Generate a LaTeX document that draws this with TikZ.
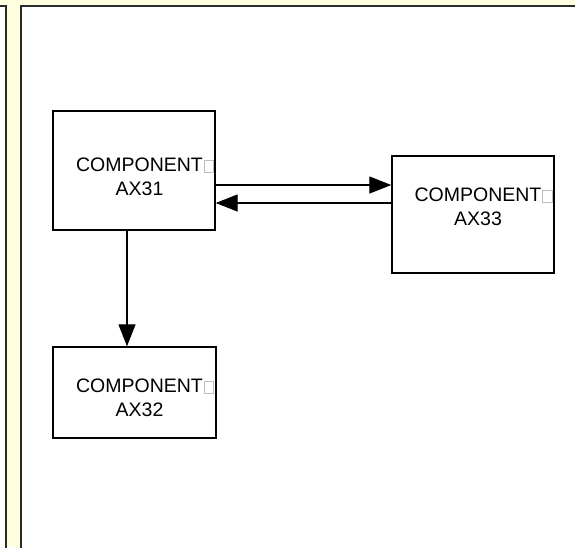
\documentclass[tikz,border=0pt]{standalone}
\usepackage{fontspec}
\setmainfont{Liberation Sans}
\usepackage{xcolor}
\usetikzlibrary{arrows.meta}
\definecolor{pad}{HTML}{FFFFE0}
\definecolor{rim}{HTML}{2B2B2B}
\definecolor{ghost}{HTML}{BDBDBD}

% missing-glyph square printed after the first line
\newcommand{\gapglyph}{\rlap{\hspace{1pt}\textcolor{ghost}{\setlength{\fboxsep}{0pt}\setlength{\fboxrule}{0.6pt}\fbox{\rule{0pt}{11pt}\hspace{9pt}}}}}

\tikzset{
  unit/.style={draw=black, line width=1.4pt, inner sep=0pt},
  caption/.style={align=center, inner sep=0pt, font=\fontsize{19.5}{24}\selectfont},
  flow/.style={line width=1.3pt, -{Triangle[length=22pt,width=17pt]}},
  panel/.style={draw=rim, fill=white, line width=2pt}
}

\begin{document}
\begin{tikzpicture}[x=1pt, y=-1pt]

% =========================
% PAGE AND PANELS
% =========================
\clip (0,0) rectangle (575,547);
\fill[pad] (0,0) rectangle (575,547);

% narrow panel (left)
\draw[panel] (-10,5.5) rectangle (5.5,560);

% main panel
\draw[panel] (20.5,5.5) rectangle (590,560);

% =========================
% COMPONENTS
% =========================
\node[unit, minimum width=162pt, minimum height=119pt] (ax31) at (134,170.5) {};
\node[unit, minimum width=162pt, minimum height=117pt] (ax33) at (473,214.5) {};
\node[unit, minimum width=163pt, minimum height=91pt] (ax32) at (134.5,392.5) {};

\node[caption] (ax31 text) at (139.5,177) {COMPONENT\gapglyph\\AX31};
\node[caption] (ax33 text) at (478,207) {COMPONENT\gapglyph\\AX33};
\node[caption] (ax32 text) at (139.5,398) {COMPONENT\gapglyph\\AX32};

% =========================
% CONNECTORS
% =========================
\coordinate (hi) at ([yshift=-14.5pt]ax31.east);
\coordinate (lo) at ([yshift=-32.5pt]ax31.east);

\draw[flow] (hi) -- (hi -| ax33.west);
\draw[flow] (lo -| ax33.west) -- (lo);

\draw[flow] ([xshift=-7pt]ax31.south) -- ([xshift=-7.5pt]ax32.north);

\end{tikzpicture}
\end{document}
